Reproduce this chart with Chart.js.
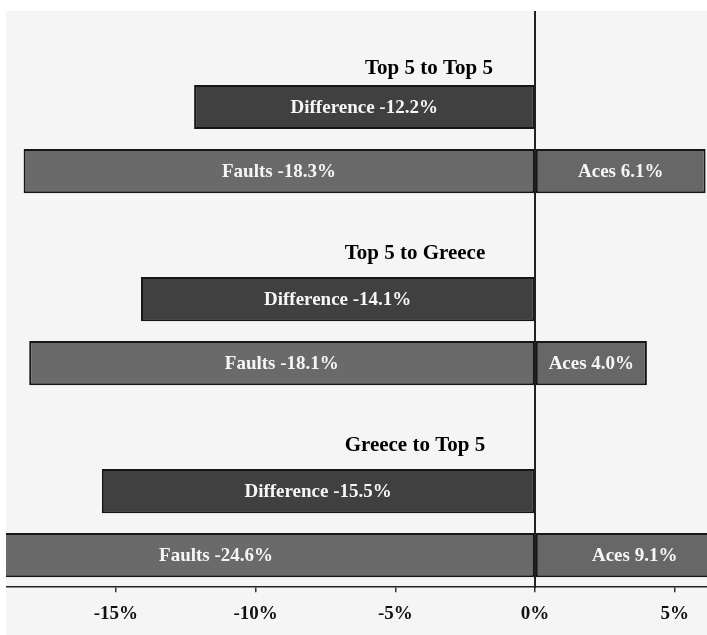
<!DOCTYPE html>
<html><head><meta charset="utf-8">
<script src="https://cdn.jsdelivr.net/npm/chart.js@4.4.1/dist/chart.umd.min.js"></script>
<style>
html,body{margin:0;padding:0;background:#fff;width:707px;height:635px;overflow:hidden}
#wrap{position:absolute;left:6px;top:11px;width:701px;height:624px;background:#f5f5f5}
canvas{display:block}
</style></head><body>
<div id="wrap"><canvas id="c" width="701" height="624"></canvas></div>
<script>
// ---- data ----
const groups = ['Top 5 to Top 5', 'Top 5 to Greece', 'Greece to Top 5'];
const difference = [-12.2, -14.1, -15.5];
const faults = [-18.3, -18.1, -24.6];
const aces = [6.1, 4.0, 9.1];
const axisMin = -18.93;
const axisMax = 6.15;
const tickStep = 5;

// ---- build category slots: title slot, difference slot, faults/aces slot per group ----
const slots = [], diffData = [], faultData = [], aceData = [];
groups.forEach((g, i) => {
  slots.push(g, g + ' Difference', g + ' Faults/Aces');
  diffData.push(null, difference[i], null);
  faultData.push(null, null, faults[i]);
  aceData.push(null, null, aces[i]);
});

const labelPlugin = {
  id: 'barText',
  afterDatasetsDraw(chart, args, opts) {
    const ctx = chart.ctx, xs = chart.scales.x;
    const lo = xs.getPixelForValue(opts.labelRange[0]);
    const hi = xs.getPixelForValue(opts.labelRange[1]);
    ctx.save();
    ctx.textAlign = 'center';
    ctx.textBaseline = 'middle';
    ctx.font = 'bold 19px "Liberation Serif"';
    ctx.fillStyle = '#f6f6f6';
    chart.data.datasets.forEach((ds, di) => {
      const meta = chart.getDatasetMeta(di);
      meta.data.forEach((el, j) => {
        const v = ds.data[j];
        if (v === null || v === undefined) return;
        const a = Math.max(Math.min(el.x, el.base), lo);
        const b = Math.min(Math.max(el.x, el.base), hi);
        ctx.fillText(ds.label + ' ' + v.toFixed(1) + '%', (a + b) / 2, el.y + 1);
      });
    });
    // group titles above the difference bars
    ctx.fillStyle = '#000';
    ctx.font = 'bold 21px "Liberation Serif"';
    const dmeta = chart.getDatasetMeta(0);
    groups.forEach((g, i) => {
      const el = dmeta.data[i * 3 + 1];
      const top = el.y - el.height / 2;
      ctx.fillText(g, xs.getPixelForValue(opts.titleX[i]), top - opts.titleGap[i]);
    });
    ctx.restore();
  }
};

const barStyle = {borderColor: '#161616', borderWidth: 2, borderSkipped: false};

new Chart(document.getElementById('c'), {
  type: 'bar',
  data: {
    labels: slots,
    datasets: [
      Object.assign({label: 'Difference', data: diffData, backgroundColor: '#404040'}, barStyle),
      Object.assign({label: 'Faults', data: faultData, backgroundColor: '#6a6a6a'}, barStyle),
      Object.assign({label: 'Aces', data: aceData, backgroundColor: '#676767'}, barStyle)
    ]
  },
  options: {
    indexAxis: 'y',
    responsive: false,
    animation: false,
    layout: {padding: {top: 0, left: 0, right: 0, bottom: 0}},
    datasets: {bar: {categoryPercentage: 1, barPercentage: 0.69}},
    plugins: {
      legend: {display: false},
      tooltip: {enabled: false},
      barText: {labelRange: [-22.8, 7.1], titleX: [-3.8, -4.3, -4.3], titleGap: [16, 23, 24]}
    },
    scales: {
      x: {
        type: 'linear', min: axisMin, max: axisMax, stacked: true,
        ticks: {stepSize: tickStep, includeBounds: false, padding: 10, color: '#111',
          font: {family: 'Liberation Serif', size: 19, weight: 'bold'},
          callback: v => v + '%', maxRotation: 0, autoSkip: false},
        grid: {drawOnChartArea: false, drawTicks: true, tickLength: 5, color: '#333', lineWidth: 1.5},
        border: {display: true, color: '#222', width: 1.5}
      },
      y: {
        stacked: true, position: {x: 0},
        ticks: {display: false},
        grid: {display: false},
        border: {display: true, color: '#222', width: 2}
      }
    }
  },
  plugins: [labelPlugin]
});
</script>
</body></html>
